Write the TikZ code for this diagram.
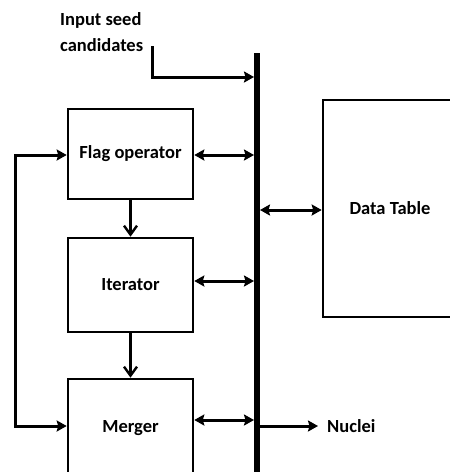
\documentclass[tikz,border=0pt]{standalone}
\usepackage{fontspec}
\setmainfont{Carlito}
\usetikzlibrary{arrows.meta}
\begin{document}
\begin{tikzpicture}[x=1pt,y=-1pt,
  block/.style={draw, line width=2.6pt, minimum width=125pt, inner sep=0pt,
    font=\fontsize{18.5}{22}\selectfont\bfseries},
  txt/.style={inner sep=0pt, font=\fontsize{18.5}{26}\selectfont\bfseries},
  tip/.style={Stealth[length=10pt,width=11pt,inset=1.5pt]},
  link/.style={line width=3pt, -{Stealth[length=10pt,width=11pt,inset=1.5pt]}},
  both/.style={line width=3pt, {Stealth[length=10pt,width=11pt,inset=1.5pt]}-{Stealth[length=10pt,width=11pt,inset=1.5pt]}},
  flow/.style={line width=2.4pt, -{Straight Barb[length=9pt,width=13pt,line width=2.4pt]}},
  bus/.style={line width=6pt}
]
\useasboundingbox (0,0) rectangle (450,472);
\clip (0,0) rectangle (450,472);

% processing blocks
\node[block, minimum height=90pt] (flag) at (130.5,154) {Flag operator};
\node[block, minimum height=94pt] (iter) at (130.5,285) {Iterator};
\node[block, minimum height=98pt] (merger) at (130.5,428) {Merger};
\node[block, minimum width=134pt, minimum height=217pt] (data) at (390,208.5) {Data Table};

% shared bus
\coordinate (bustop) at (257,53);
\coordinate (busbot) at (257,480);
\draw[bus] (bustop) -- (busbot);

% input
\node[txt, align=left, anchor=north west] (seed) at (60,12) {Input seed\\candidates};
\coordinate (inStart) at (152,46);
\coordinate (inTurn) at (152,77);
\draw[link, shorten >=3pt] (inStart) -- (inTurn) -- (inTurn -| bustop);

% blocks to bus
\draw[both, shorten >=3pt] ([yshift=-1pt]flag.east) -- ([yshift=-1pt]flag.east -| bustop);
\draw[both, shorten >=3pt] ([yshift=4pt]iter.east) -- ([yshift=4pt]iter.east -| bustop);
\draw[both, shorten >=3pt] ([yshift=8pt]merger.east) -- ([yshift=8pt]merger.east -| bustop);
\draw[both, shorten <=3pt] ([yshift=-1.5pt]data.west -| bustop) -- ([yshift=-1.5pt]data.west);

% output
\node[txt, anchor=west] (nuclei) at (327,426) {Nuclei};
\draw[link, shorten <=3pt] (nuclei.west -| bustop) -- ([xshift=-9pt]nuclei.west);

% sequence
\draw[flow] (flag.south) -- (iter.north);
\draw[flow] (iter.south) -- (merger.north);

% feedback loop
\coordinate (loop) at (15,300);
\draw[both] ([yshift=-1pt]flag.west) -| (loop) |- ([yshift=2pt]merger.west);
\end{tikzpicture}
\end{document}
